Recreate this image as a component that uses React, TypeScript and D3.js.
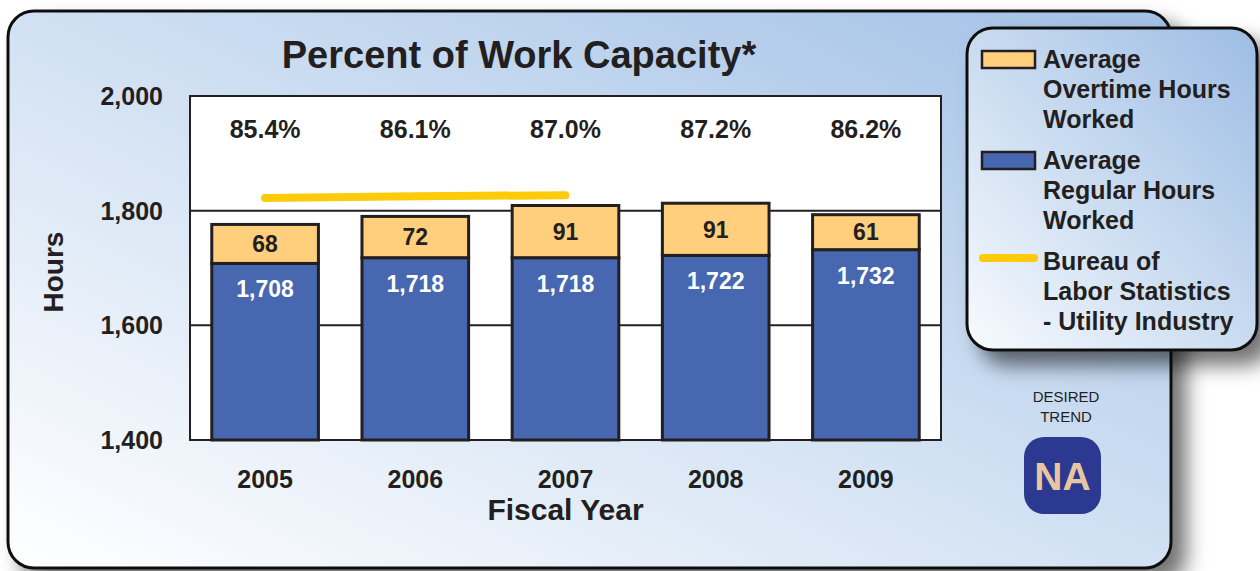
import React from 'react';
import * as d3 from 'd3';

const years = ['2005', '2006', '2007', '2008', '2009'];
const regularHours = [1708, 1718, 1718, 1722, 1732];
const overtimeHours = [68, 72, 91, 91, 61];
const capacityPct = ['85.4%', '86.1%', '87.0%', '87.2%', '86.2%'];
const blsYears = ['2005', '2006', '2007'];
const blsHours = [1822, 1825, 1827];
const yTicks = [1400, 1600, 1800, 2000];

const FONT = '"Liberation Sans", Arial, sans-serif';
const DARK = '#231F20';
const ORANGE = '#FFCF7D';
const BLUE = '#4767B0';
const YELLOW = '#FDCB0A';

const App: React.FC = () => {
  const width = 1260;
  const height = 571;
  const plot = { left: 190, right: 941, top: 96, bottom: 440 };

  const x = d3.scaleBand<string>()
    .domain(years)
    .range([plot.left, plot.right])
    .paddingInner(0.29)
    .paddingOuter(0.145);

  const y = d3.scaleLinear().domain([1400, 2000]).range([plot.bottom, plot.top]);

  const blsLine = d3.line<number>()
    .x((_, i) => (x(blsYears[i]) || 0) + x.bandwidth() / 2)
    .y(d => y(d));

  const legendItems = [
    { kind: 'rect', color: ORANGE, lines: ['Average', 'Overtime Hours', 'Worked'], top: 51 },
    { kind: 'rect', color: BLUE, lines: ['Average', 'Regular Hours', 'Worked'], top: 152 },
    { kind: 'line', color: YELLOW, lines: ['Bureau of', 'Labor Statistics', '- Utility Industry'], top: 253 },
  ];

  return (
    <svg width={width} height={height} style={{ position: 'absolute', left: 0, top: 0 }} fontFamily={FONT}>
      <defs>
        <linearGradient id="panelGrad" x1="0" y1="1" x2="1" y2="0">
          <stop offset="0" stopColor="#FFFFFF" />
          <stop offset="0.45" stopColor="#D6E4F4" />
          <stop offset="1" stopColor="#A2C0E6" />
        </linearGradient>
        <linearGradient id="legendGrad" x1="0" y1="1" x2="1" y2="0">
          <stop offset="0" stopColor="#F8FBFE" />
          <stop offset="0.5" stopColor="#C9DBF0" />
          <stop offset="1" stopColor="#9DBCE4" />
        </linearGradient>
        <filter id="shadow" x="-5%" y="-5%" width="120%" height="130%">
          <feDropShadow dx="14" dy="14" stdDeviation="10" floodColor="#000" floodOpacity="0.55" />
        </filter>
      </defs>

      {/* main panel */}
      <rect x={8} y={11} width={1163} height={557} rx={26} fill="url(#panelGrad)"
        stroke="#111" strokeWidth={3} filter="url(#shadow)" />

      <text x={519} y={68} textAnchor="middle" fontSize={38} fontWeight="bold" fill={DARK}>
        Percent of Work Capacity*
      </text>

      {/* plot area */}
      <rect x={plot.left} y={plot.top} width={plot.right - plot.left} height={plot.bottom - plot.top}
        fill="#fff" />
      {yTicks.slice(1, 3).map(t => (
        <line key={t} x1={plot.left} x2={plot.right} y1={y(t)} y2={y(t)} stroke={DARK} strokeWidth={2} />
      ))}
      <rect x={plot.left} y={plot.top} width={plot.right - plot.left} height={plot.bottom - plot.top}
        fill="none" stroke={DARK} strokeWidth={2} />

      {yTicks.map(t => (
        <text key={t} x={163} y={y(t)} dy="0.36em" textAnchor="end" fontSize={25} fontWeight="bold" fill={DARK}>
          {d3.format(',')(t)}
        </text>
      ))}

      <text transform="translate(63,272) rotate(-90)" textAnchor="middle" fontSize={28} fontWeight="bold" fill={DARK}>
        Hours
      </text>

      {/* bars */}
      {years.map((yr, i) => {
        const bx = x(yr) || 0;
        const bw = x.bandwidth();
        const reg = regularHours[i];
        const tot = reg + overtimeHours[i];
        return (
          <g key={yr}>
            <rect x={bx} y={y(reg)} width={bw} height={y(1400) - y(reg)} fill={BLUE} stroke={DARK} strokeWidth={3} />
            <rect x={bx} y={y(tot)} width={bw} height={y(reg) - y(tot)} fill={ORANGE} stroke={DARK} strokeWidth={3} />
            <text x={bx + bw / 2} y={(y(reg) + y(tot)) / 2} dy="0.36em" textAnchor="middle"
              fontSize={23} fontWeight="bold" fill={DARK}>{overtimeHours[i]}</text>
            <text x={bx + bw / 2} y={y(reg) + 34} textAnchor="middle"
              fontSize={23} fontWeight="bold" fill="#fff">{d3.format(',')(reg)}</text>
            <text x={bx + bw / 2} y={138} textAnchor="middle" fontSize={25} fontWeight="bold" fill={DARK}>
              {capacityPct[i]}
            </text>
            <text x={bx + bw / 2} y={488} textAnchor="middle" fontSize={25} fontWeight="bold" fill={DARK}>
              {yr}
            </text>
          </g>
        );
      })}

      <path d={blsLine(blsHours) || ''} fill="none" stroke={YELLOW} strokeWidth={8} strokeLinecap="round" />

      <text x={(plot.left + plot.right) / 2} y={520} textAnchor="middle" fontSize={30} fontWeight="bold" fill={DARK}>
        Fiscal Year
      </text>

      {/* desired trend badge */}
      <text x={1066} y={402} textAnchor="middle" fontSize={15} fill={DARK}>DESIRED</text>
      <text x={1066} y={422} textAnchor="middle" fontSize={15} fill={DARK}>TREND</text>
      <rect x={1024} y={437} width={77} height={77} rx={20} fill="#2B3990" />
      <text x={1062.5} y={490} textAnchor="middle" fontSize={39} fontWeight="bold" fill="#E9C5A2">NA</text>

      {/* legend */}
      <rect x={967} y={28} width={290} height={322} rx={26} fill="url(#legendGrad)"
        stroke="#111" strokeWidth={3} filter="url(#shadow)" />
      {legendItems.map(item => (
        <g key={item.lines[0] + item.top}>
          {item.kind === 'rect' ? (
            <rect x={982} y={item.top} width={53} height={17} fill={item.color} stroke={DARK} strokeWidth={2.5} />
          ) : (
            <line x1={983} x2={1034} y1={item.top + 5} y2={item.top + 5} stroke={item.color} strokeWidth={8} strokeLinecap="round" />
          )}
          {item.lines.map((ln, j) => (
            <text key={ln} x={1043} y={item.top + 17 + j * 30} fontSize={25} fontWeight="bold" fill={DARK}>{ln}</text>
          ))}
        </g>
      ))}
    </svg>
  );
};

export default App;
